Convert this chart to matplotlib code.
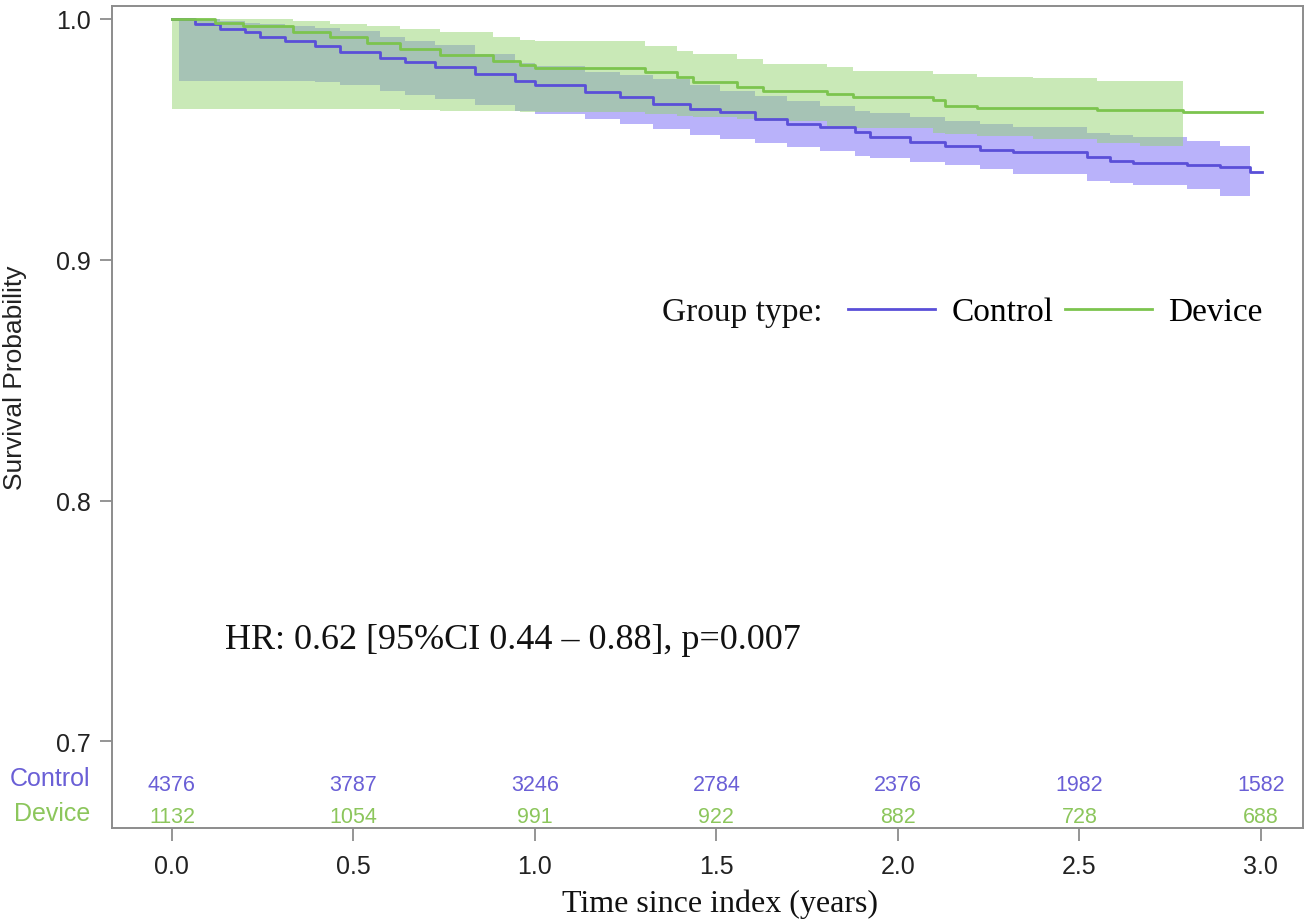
import numpy as np
import matplotlib
matplotlib.use("Agg")
import matplotlib.pyplot as plt
from matplotlib.transforms import blended_transform_factory

# Kaplan-Meier estimates (step functions)
ctrl_t = [0, 0.02, 0.063, 0.132, 0.201, 0.242, 0.311, 0.394, 0.463, 0.573, 0.642,
          0.725, 0.835, 0.945, 1.0, 1.138, 1.234, 1.325, 1.427, 1.51, 1.606, 1.694,
          1.785, 1.882, 1.923, 2.033, 2.13, 2.226, 2.317, 2.52, 2.584, 2.647, 2.796,
          2.887, 2.97, 3.003]
ctrl_surv = [1.000, 1.000, 0.9977, 0.9956, 0.9944, 0.9923, 0.9907, 0.9886, 0.9861,
             0.9836, 0.9820, 0.9799, 0.9770, 0.9741, 0.9724, 0.9695, 0.9674, 0.9645,
             0.9624, 0.9612, 0.9583, 0.9562, 0.9550, 0.9529, 0.9508, 0.9488, 0.9471,
             0.9454, 0.9446, 0.9425, 0.9409, 0.9400, 0.9392, 0.9384, 0.9363, 0.9363]
ctrl_upper = [1.000, 1.000, 1.000, 0.999, 0.9981, 0.9977, 0.9969, 0.9961, 0.9948,
              0.9923, 0.9907, 0.9890, 0.9853, 0.9815, 0.9803, 0.9778, 0.9766, 0.9749,
              0.9724, 0.9699, 0.9678, 0.9658, 0.9637, 0.9616, 0.9608, 0.9591, 0.9575,
              0.9562, 0.9550, 0.9525, 0.9517, 0.9508, 0.9492, 0.9471, 0.9471, np.nan]
ctrl_lower = [1.000, 0.9741, 0.9741, 0.9741, 0.9741, 0.9741, 0.9741, 0.9737, 0.9724,
              0.9699, 0.9683, 0.9666, 0.9641, 0.9616, 0.9604, 0.9583, 0.9562, 0.9541,
              0.9517, 0.9500, 0.9483, 0.9467, 0.9450, 0.9429, 0.9421, 0.9405, 0.9392,
              0.9376, 0.9355, 0.9326, 0.9317, 0.9309, 0.9293, 0.9263, 0.9263, np.nan]

dev_t = [0, 0.118, 0.196, 0.333, 0.435, 0.537, 0.628, 0.738, 0.884, 0.959, 1.0,
         1.303, 1.391, 1.435, 1.556, 1.628, 1.804, 1.876, 2.096, 2.13, 2.218, 2.372,
         2.548, 2.667, 2.785, 3.003]
dev_surv = [1.000, 0.9981, 0.9969, 0.9944, 0.9923, 0.9898, 0.9873, 0.9849, 0.9824,
            0.9807, 0.9795, 0.9778, 0.9758, 0.9737, 0.9716, 0.9699, 0.9687, 0.9674,
            0.9662, 0.9637, 0.9629, 0.9629, 0.9620, 0.9620, 0.9612, 0.9612]
dev_upper = [1.000, 1.000, 1.000, 0.999, 0.9977, 0.9969, 0.9956, 0.9944, 0.9923,
             0.9911, 0.9907, 0.9886, 0.9865, 0.9853, 0.9832, 0.9811, 0.9799, 0.9782,
             0.9770, 0.9770, 0.9757, 0.9753, 0.9741, 0.9741, 0.9741, np.nan]
dev_lower = [0.9624, 0.9624, 0.9624, 0.9624, 0.9624, 0.9624, 0.9620, 0.9616, 0.9616,
             0.9612, 0.9612, 0.9604, 0.9595, 0.9591, 0.9583, 0.9575, 0.9554, 0.9546,
             0.9525, 0.9521, 0.9513, 0.9500, 0.9483, 0.9471, 0.9459, np.nan]

# numbers at risk
risk_times = [0.0, 0.5, 1.0, 1.5, 2.0, 2.5, 3.0]
ctrl_risk = [4376, 3787, 3246, 2784, 2376, 1982, 1582]
dev_risk = [1132, 1054, 991, 922, 882, 728, 688]

hr_text = "HR: 0.62 [95%CI 0.44 \u2013 0.88], p=0.007"

blue = "#5a4fd8"
green = "#7cc44e"
sans = ["Liberation Sans", "DejaVu Sans"]
serif = ["Liberation Serif", "DejaVu Serif"]

fig = plt.figure(figsize=(13.06, 9.2), dpi=100)
ax = fig.add_axes([112 / 1306, 1 - 829 / 920, 1191 / 1306, 822 / 920])

# confidence bands: control below, device blended on top
ax.fill_between(ctrl_t, ctrl_lower, ctrl_upper, step="post",
                color=(100 / 255, 85 / 255, 245 / 255), alpha=0.45, lw=0)
ax.fill_between(dev_t, dev_lower, dev_upper, step="post",
                color=(149 / 255, 213 / 255, 113 / 255), alpha=0.5, lw=0)

ax.step(ctrl_t, ctrl_surv, where="post", color=blue, lw=2, label="Control")
ax.step(dev_t, dev_surv, where="post", color=green, lw=2, label="Device")

ax.set_xlim(-0.165, 3.116)
ax.set_ylim(0.6641, 1.0052)
ax.set_xticks([0.0, 0.5, 1.0, 1.5, 2.0, 2.5, 3.0])
ax.set_xticklabels(["0.0", "0.5", "1.0", "1.5", "2.0", "2.5", "3.0"])
ax.set_yticks([0.7, 0.8, 0.9, 1.0])
ax.set_yticklabels(["0.7", "0.8", "0.9", "1.0"])
ax.tick_params(axis="both", length=9, width=1.3, color="#8c8c8c",
               labelsize=18, labelcolor="#222222", pad=6)
ax.tick_params(axis="x", pad=10)
for lab in ax.get_xticklabels() + ax.get_yticklabels():
    lab.set_family(sans)
for sp in ax.spines.values():
    sp.set_color("#8c8c8c")
    sp.set_linewidth(1.4)

ax.set_ylabel("Survival Probability", fontsize=19, family=sans, color="#222222")
ax.yaxis.set_label_coords(-0.071, 0.549)
ax.set_xlabel("Time since index (years)", fontsize=23, family=serif, color="#111111")
ax.xaxis.set_label_coords(0.5105, -0.074)

# at-risk table inside the plot
tr = blended_transform_factory(ax.transData, ax.transAxes)
for t, c, d in zip(risk_times, ctrl_risk, dev_risk):
    ax.text(t, 0.053, str(c), transform=tr, ha="center", va="center",
            fontsize=15.5, family=sans, color="#6a5fd6")
    ax.text(t, 0.0135, str(d), transform=tr, ha="center", va="center",
            fontsize=15.5, family=sans, color="#8cc65c")
fig.text(90 / 1306, 1 - 779 / 920, "Control", ha="right", va="center",
         fontsize=18, family=sans, color="#6a5fd6")
fig.text(90 / 1306, 1 - 814 / 920, "Device", ha="right", va="center",
         fontsize=18, family=sans, color="#8cc65c")

ax.text((225 - 112) / 1191, (829 - 641) / 822, hr_text, transform=ax.transAxes,
        ha="left", va="center", fontsize=26, family=serif, color="#111111")

# legend
fig.text(822 / 1306, 1 - 313 / 920, "Group type:", ha="right", va="center",
         fontsize=24, family=serif, color="#111111")
ax.legend(loc="center left", bbox_to_anchor=(848 / 1306, 1 - 313 / 920),
          bbox_transform=fig.transFigure, ncol=2, frameon=False,
          borderpad=0, borderaxespad=0, handlelength=2.6, handletextpad=0.5,
          columnspacing=0.35, prop={"family": serif, "size": 24})

fig.savefig("out.png", dpi=100)
